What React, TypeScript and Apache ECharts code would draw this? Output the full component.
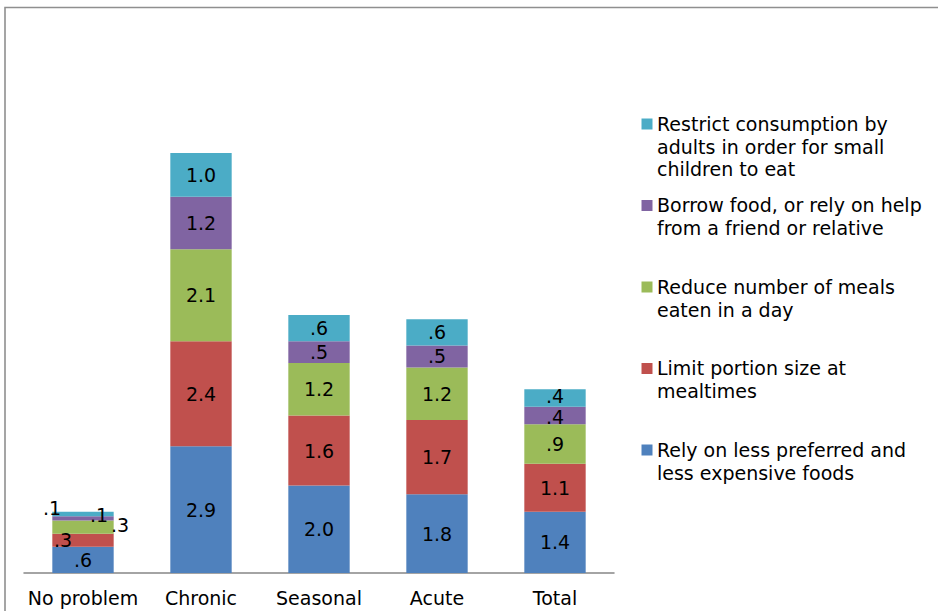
import React, { useEffect, useRef } from "react";
import * as echarts from "echarts";

// Household coping strategies, mean frequency by food-security group
const categories = ["No problem", "Chronic", "Seasonal", "Acute", "Total"];

const relyLessPreferred = [0.6, 2.9, 2.0, 1.8, 1.4];
const limitPortionSize = [0.3, 2.4, 1.6, 1.7, 1.1];
const reduceMeals = [0.3, 2.1, 1.2, 1.2, 0.9];
const borrowFood = [0.1, 1.2, 0.5, 0.5, 0.4];
const restrictAdults = [0.1, 1.0, 0.6, 0.6, 0.4];

const seriesNames = [
  "Rely on less preferred and less expensive foods",
  "Limit portion size at mealtimes",
  "Reduce number of meals eaten in a day",
  "Borrow food, or rely on help from a friend or relative",
  "Restrict consumption by adults in order for small children to eat",
];

// Line breaks used in the legend
const legendLines = [
  ["Rely on less preferred and", "less expensive foods"],
  ["Limit portion size at", "mealtimes"],
  ["Reduce number of meals", "eaten in a day"],
  ["Borrow food, or rely on help", "from a friend or relative"],
  ["Restrict consumption by", "adults in order for small", "children to eat"],
];

const seriesValues = [relyLessPreferred, limitPortionSize, reduceMeals, borrowFood, restrictAdults];
const colors = ["#4F81BD", "#C0504D", "#9BBB59", "#8064A2", "#4BACC6"];

// Label nudges for thin segments, keyed by [series][category]
const labelOffsets: Record<string, [number, number]> = {
  "1-0": [-20, 0],
  "2-0": [37, -2],
  "3-0": [16, -3],
  "4-0": [-31, -6],
  "3-4": [0, 1.5],
  "4-4": [0, -2],
};

const FONT = "'DejaVu Sans', Verdana, sans-serif";
const FONT_SIZE = 19;

function fmt(v: number): string {
  return v.toFixed(1).replace(/^0/, "");
}

export default function App() {
  const ref = useRef<HTMLDivElement>(null);

  useEffect(() => {
    if (!ref.current) return;
    const chart = echarts.init(ref.current, undefined, { renderer: "svg" });

    const series = seriesNames.map((name, s) => ({
      name,
      type: "bar" as const,
      stack: "total",
      barWidth: "52%",
      itemStyle: { color: colors[s] },
      label: {
        show: true,
        position: "inside" as const,
        color: "#000",
        fontFamily: FONT,
        fontSize: FONT_SIZE,
        lineHeight: 15,
        formatter: (p: any) => fmt(p.value),
      },
      data: seriesValues[s].map((v, i) => {
        const off = labelOffsets[`${s}-${i}`];
        return off ? { value: v, label: { offset: off } } : v;
      }),
    }));

    // Legend drawn top-down: last series first, each block starting on a fixed pitch
    const legendTop = 124;
    const legendPitch = 81.5;
    const lineH = 22.7;
    const legendGraphics: any[] = [];
    for (let k = 0; k < seriesNames.length; k++) {
      const s = seriesNames.length - 1 - k;
      const cy = legendTop + k * legendPitch;
      legendGraphics.push({
        type: "rect",
        shape: { x: 641.5, y: cy - 5.5, width: 11, height: 11 },
        style: { fill: colors[s] },
      });
      legendGraphics.push({
        type: "text",
        x: 657,
        y: cy - lineH / 2,
        style: {
          text: legendLines[s].join("\n"),
          fontFamily: FONT,
          fontSize: FONT_SIZE,
          lineHeight: lineH,
          fill: "#000",
          verticalAlign: "top",
          align: "left",
        },
      });
    }

    chart.setOption({
      animation: false,
      backgroundColor: "#fff",
      grid: { left: 24, right: 324, top: 135.5, bottom: 38 },
      xAxis: {
        type: "category",
        data: categories,
        axisLine: { show: true, lineStyle: { color: "#868686", width: 1.5 } },
        axisTick: { show: false },
        axisLabel: {
          color: "#000",
          fontFamily: FONT,
          fontSize: FONT_SIZE,
          margin: 15,
          interval: 0,
        },
      },
      yAxis: {
        type: "value",
        min: 0,
        max: 10,
        show: false,
        splitLine: { show: false },
      },
      series,
      graphic: [
        {
          type: "rect",
          shape: { x: 5, y: 7.5, width: 1000, height: 1000 },
          style: { fill: "none", stroke: "#8f8f8f", lineWidth: 1.6 },
          silent: true,
        },
        ...legendGraphics,
      ],
    });

    return () => chart.dispose();
  }, []);

  return (
    <div
      ref={ref}
      style={{ position: "fixed", left: 0, top: 0, width: 938, height: 611, background: "#fff" }}
    />
  );
}
